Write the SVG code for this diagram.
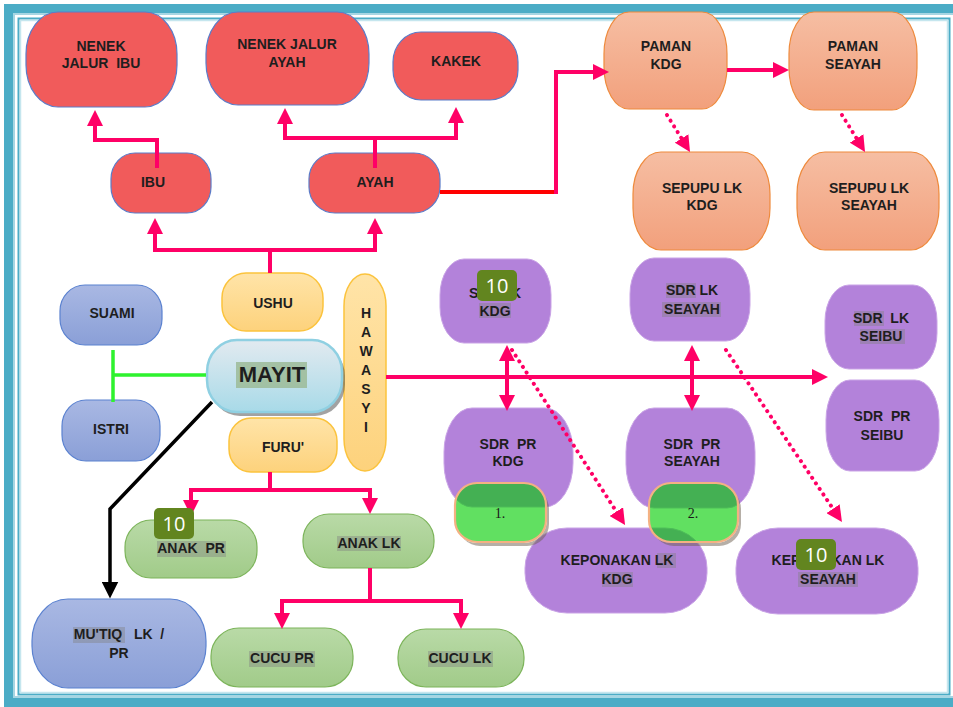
<svg xmlns="http://www.w3.org/2000/svg" width="953" height="707" viewBox="0 0 953 707">
<defs>
<style>
.t{font-family:"Liberation Sans",Arial,sans-serif;font-weight:bold;font-size:14px;fill:#1e1e1e;text-anchor:middle;white-space:pre}
.red{fill:#f15b5b;stroke:#5b7cc9;stroke-width:1.2}
.sal{fill:url(#gSal);stroke:#ee8a3c;stroke-width:1.2}
.yel{fill:url(#gYel);stroke:#fbc33d;stroke-width:1.5}
.blu{fill:url(#gBlu);stroke:#5b82d0;stroke-width:1.2}
.pur{fill:#b382da;stroke:#c9a3e6;stroke-width:1}
.grn{fill:url(#gGrn);stroke:#7cb45a;stroke-width:1.2}
.hl{fill:#808080;fill-opacity:0.4}
.pill{fill:#00cd00;fill-opacity:0.62;stroke:#f4b183;stroke-width:2.2}
.psh{fill:#6e6050;fill-opacity:0.5}
.pk{fill:none;stroke:#ff0066;stroke-width:4}
.dot{fill:none;stroke:#ff0066;stroke-width:4;stroke-linecap:round;stroke-dasharray:0.1 6.6}
.badge{fill:#62851f}
.bt{font-family:"Open Sans","Liberation Sans",sans-serif;font-size:20px;fill:#ffffff;text-anchor:middle}
.pt{font-family:"Liberation Serif","Times New Roman",serif;font-size:14px;fill:#1a1a1a;text-anchor:middle}
</style>
<linearGradient id="gSal" x1="0" y1="0" x2="0" y2="1"><stop offset="0" stop-color="#f6bea3"/><stop offset="1" stop-color="#f2a07c"/></linearGradient>
<linearGradient id="gYel" x1="0" y1="0" x2="0" y2="1"><stop offset="0" stop-color="#ffe4a8"/><stop offset="1" stop-color="#fdd27c"/></linearGradient>
<linearGradient id="gBlu" x1="0" y1="0" x2="0" y2="1"><stop offset="0" stop-color="#a9b8e3"/><stop offset="1" stop-color="#8a9fd7"/></linearGradient>
<linearGradient id="gGrn" x1="0" y1="0" x2="0" y2="1"><stop offset="0" stop-color="#b9daa7"/><stop offset="1" stop-color="#a1cb89"/></linearGradient>
<linearGradient id="gMay" x1="0" y1="0" x2="0" y2="1"><stop offset="0" stop-color="#e2eaf0"/><stop offset="1" stop-color="#a8dae8"/></linearGradient>
<mask id="m1" maskUnits="userSpaceOnUse" x="0" y="0" width="953" height="707"><rect width="953" height="707" fill="#fff"/><rect x="454" y="482" width="93" height="61" rx="23" ry="23" fill="#000"/></mask>
<mask id="m2" maskUnits="userSpaceOnUse" x="0" y="0" width="953" height="707"><rect width="953" height="707" fill="#fff"/><rect x="648" y="482" width="91" height="61" rx="23" ry="23" fill="#000"/></mask>
<marker id="ah" viewBox="0 0 16 16" refX="8" refY="8" markerWidth="16" markerHeight="16" markerUnits="userSpaceOnUse" orient="auto-start-reverse"><path d="M0,0 L16,8 L0,16 z" fill="#ff0066"/></marker>
<marker id="ahb" viewBox="0 0 16 16" refX="8" refY="8" markerWidth="17" markerHeight="17" markerUnits="userSpaceOnUse" orient="auto"><path d="M0,0 L16,8 L0,16 z" fill="#000000"/></marker>
</defs>
<rect width="953" height="707" fill="#ffffff"/>
<!-- frame -->
<rect x="8.5" y="8.5" width="960" height="694" fill="none" stroke="#4bacc6" stroke-width="9"/>
<rect x="14" y="14" width="950" height="683" fill="none" stroke="#a6d6e3" stroke-width="2"/>
<rect x="18.5" y="18.5" width="931" height="676" fill="none" stroke="#4bacc6" stroke-width="2"/>
<rect x="20.5" y="20.5" width="927" height="672" fill="none" stroke="#c5e6ee" stroke-width="1.5"/>

<g id="n-nenek-ibu"><rect class="red" x="26" y="12" width="151" height="95" rx="32" ry="42"/><text class="t" x="101" y="51">NENEK</text><text class="t" x="101" y="68">JALUR  IBU</text></g>
<g id="n-nenek-ayah"><rect class="red" x="206" y="12" width="163" height="93" rx="32" ry="42"/><text class="t" x="287" y="49">NENEK JALUR</text><text class="t" x="287" y="67">AYAH</text></g>
<g id="n-kakek"><rect class="red" x="393" y="32" width="125" height="68" rx="28" ry="30"/><text class="t" x="456" y="66">KAKEK</text></g>
<g id="n-ibu"><rect class="red" x="111" y="153" width="100" height="60" rx="24" ry="26"/><text class="t" x="153" y="187">IBU</text></g>
<g id="n-ayah"><rect class="red" x="309" y="153" width="131" height="60" rx="26" ry="26"/><text class="t" x="375" y="187">AYAH</text></g>

<g id="n-paman-kdg"><rect class="sal" x="604" y="12" width="123" height="97" rx="25" ry="42"/><text class="t" x="666" y="51">PAMAN</text><text class="t" x="666" y="69">KDG</text></g>
<g id="n-paman-seayah"><rect class="sal" x="789" y="12" width="128" height="98" rx="25" ry="42"/><text class="t" x="853" y="51">PAMAN</text><text class="t" x="853" y="69">SEAYAH</text></g>
<g id="n-sepupu-kdg"><rect class="sal" x="633" y="152" width="137" height="98" rx="28" ry="42"/><text class="t" x="702" y="193">SEPUPU LK</text><text class="t" x="702" y="210">KDG</text></g>
<g id="n-sepupu-seayah"><rect class="sal" x="797" y="152" width="142" height="98" rx="28" ry="42"/><text class="t" x="869" y="193">SEPUPU LK</text><text class="t" x="869" y="210">SEAYAH</text></g>

<g id="n-ushu"><rect class="yel" x="222" y="273" width="101" height="58" rx="24" ry="25"/><text class="t" x="273" y="308">USHU</text></g>
<g id="n-furu"><rect class="yel" x="229" y="418" width="108" height="54" rx="22" ry="23"/><text class="t" x="283" y="452">FURU'</text></g>
<g id="n-hawasyi"><rect class="yel" x="344" y="274" width="42" height="197" rx="21" ry="32"/>
<text class="t" x="366" y="318">H</text><text class="t" x="366" y="337">A</text><text class="t" x="366" y="356">W</text><text class="t" x="366" y="375">A</text><text class="t" x="366" y="394">S</text><text class="t" x="366" y="413">Y</text><text class="t" x="366" y="432">I</text></g>

<g id="n-suami"><rect class="blu" x="60" y="285" width="102" height="60" rx="25" ry="26"/><text class="t" x="112" y="318">SUAMI</text></g>
<g id="n-istri"><rect class="blu" x="62" y="400" width="98" height="61" rx="24" ry="26"/><text class="t" x="111" y="434">ISTRI</text></g>
<g id="n-mutiq"><rect class="blu" x="32" y="599" width="174" height="89" rx="36" ry="42"/><rect class="hl" x="73" y="627" width="52" height="16"/><text class="t" x="119" y="639">MU'TIQ   LK  /</text><text class="t" x="119" y="658">PR</text></g>

<g id="n-mayit"><rect x="210" y="344" width="135" height="72" rx="30" ry="32" fill="#555" fill-opacity="0.55"/><rect x="207" y="340" width="135" height="72" rx="30" ry="32" fill="url(#gMay)" stroke="#8fd0e2" stroke-width="2.5"/><rect x="236" y="362" width="71" height="26" fill="#9cbb98" fill-opacity="0.85"/><text class="t" x="272" y="382" style="font-size:22px">MAYIT</text></g>

<g id="n-sdr-lk-kdg"><rect class="pur" x="440" y="259" width="111" height="84" rx="24" ry="36"/><rect class="hl" x="479" y="303" width="32" height="15"/><text class="t" x="495" y="298">SDR LK</text><text class="t" x="495" y="316">KDG</text></g>
<g id="n-sdr-lk-seayah"><rect class="pur" x="630" y="258" width="120" height="83" rx="24" ry="36"/><rect class="hl" x="666" y="283" width="30" height="15"/><rect class="hl" x="662" y="302" width="59" height="15"/><text class="t" x="692" y="295">SDR LK</text><text class="t" x="692" y="314">SEAYAH</text></g>
<g id="n-sdr-lk-seibu"><rect class="pur" x="825" y="285" width="112" height="84" rx="24" ry="36"/><rect class="hl" x="854" y="311" width="30" height="15"/><rect class="hl" x="860" y="329" width="45" height="15"/><text class="t" x="881" y="323">SDR  LK</text><text class="t" x="881" y="341">SEIBU</text></g>
<g id="n-sdr-pr-seibu"><rect class="pur" x="826" y="380" width="113" height="91" rx="24" ry="40"/><text class="t" x="882" y="421">SDR  PR</text><text class="t" x="882" y="440">SEIBU</text></g>
<g id="n-sdr-pr-kdg"><rect class="pur" x="444" y="408" width="129" height="99" rx="28" ry="44"/><text class="t" x="508" y="449">SDR  PR</text><text class="t" x="508" y="466">KDG</text></g>
<g id="n-sdr-pr-seayah"><rect class="pur" x="626" y="408" width="129" height="100" rx="28" ry="44"/><text class="t" x="692" y="449">SDR  PR</text><text class="t" x="692" y="466">SEAYAH</text></g>
<g id="n-kep-kdg"><rect class="pur" x="525" y="528" width="182" height="85" rx="42" ry="40"/><rect class="hl" x="657" y="553" width="19" height="15"/><rect class="hl" x="602" y="572" width="31" height="15"/><text class="t" x="617" y="565">KEPONAKAN LK</text><text class="t" x="617" y="584">KDG</text></g>
<g id="n-kep-seayah"><rect class="pur" x="736" y="528" width="182" height="86" rx="42" ry="40"/><rect class="hl" x="798" y="572" width="60" height="15"/><text class="t" x="828" y="565">KEPONAKAN LK</text><text class="t" x="828" y="584">SEAYAH</text></g>

<g id="n-pill-1"><rect class="psh" x="458" y="487" width="91" height="59" rx="22" ry="22" mask="url(#m1)"/><rect class="pill" x="455" y="483" width="91" height="59" rx="22" ry="22"/><text class="pt" x="500" y="518">1.</text></g>
<g id="n-pill-2"><rect class="psh" x="652" y="487" width="89" height="59" rx="22" ry="22" mask="url(#m2)"/><rect class="pill" x="649" y="483" width="89" height="59" rx="22" ry="22"/><text class="pt" x="693" y="518">2.</text></g>

<g id="n-anak-pr"><rect class="grn" x="125" y="520" width="132" height="58" rx="26" ry="27"/><rect class="hl" x="157" y="541" width="69" height="16"/><text class="t" x="191" y="553">ANAK  PR</text></g>
<g id="n-anak-lk"><rect class="grn" x="303" y="514" width="131" height="54" rx="26" ry="26"/><rect class="hl" x="337" y="536" width="64" height="15"/><text class="t" x="369" y="548">ANAK LK</text></g>
<g id="n-cucu-pr"><rect class="grn" x="211" y="628" width="142" height="59" rx="28" ry="28"/><rect class="hl" x="249" y="651" width="66" height="16"/><text class="t" x="282" y="663">CUCU PR</text></g>
<g id="n-cucu-lk"><rect class="grn" x="398" y="629" width="126" height="58" rx="28" ry="28"/><rect class="hl" x="428" y="651" width="65" height="16"/><text class="t" x="460" y="663">CUCU LK</text></g>

<g id="connectors">
<path class="pk" d="M157,168 V140 H95 V118" marker-end="url(#ah)"/>
<path class="pk" d="M375,168 V138 H456 V115" marker-end="url(#ah)"/>
<path class="pk" d="M375,138 H285 V116" marker-end="url(#ah)"/>
<path class="pk" d="M270,273 V250 H155 V226" marker-end="url(#ah)"/>
<path class="pk" d="M270,250 H375 V226" marker-end="url(#ah)"/>
<path d="M440,192 H558" fill="none" stroke="#ff0000" stroke-width="4"/>
<path class="pk" d="M556,194 V72 H601" marker-end="url(#ah)"/>
<path class="pk" d="M727,70 H781" marker-end="url(#ah)"/>
<path class="dot" d="M667,115 L685.8,145.2" marker-end="url(#ah)"/>
<path class="dot" d="M842,115 L860.8,145.2" marker-end="url(#ah)"/>
<path d="M206,375 H113 M113,350 V402" fill="none" stroke="#2ef22e" stroke-width="3.5"/>
<path class="pk" d="M386,377 H820" marker-end="url(#ah)"/>
<path class="pk" d="M507,353 V403" marker-start="url(#ah)" marker-end="url(#ah)"/>
<path class="pk" d="M692,353 V403" marker-start="url(#ah)" marker-end="url(#ah)"/>
<path class="dot" d="M512,350 L620.7,518.3" marker-end="url(#ah)"/>
<path class="dot" d="M726,350 L837.5,515.4" marker-end="url(#ah)"/>
<path d="M212,402 L110,509 V590" fill="none" stroke="#000000" stroke-width="3.5" marker-end="url(#ahb)"/>
<path class="pk" d="M270,472 V490 H191 V508" marker-end="url(#ah)"/>
<path class="pk" d="M270,490 H370 V506" marker-end="url(#ah)"/>
<path class="pk" d="M370,568 V601 H282 V621" marker-end="url(#ah)"/>
<path class="pk" d="M370,601 H461 V621" marker-end="url(#ah)"/>
</g>

<g id="badges">
<rect class="badge" x="477" y="270" width="40" height="31" rx="5"/><text class="bt" x="497" y="293">10</text>
<rect class="badge" x="154" y="508" width="40" height="31" rx="5"/><text class="bt" x="174" y="531">10</text>
<rect class="badge" x="796" y="539" width="40" height="31" rx="5"/><text class="bt" x="816" y="562">10</text>
</g>
</svg>
